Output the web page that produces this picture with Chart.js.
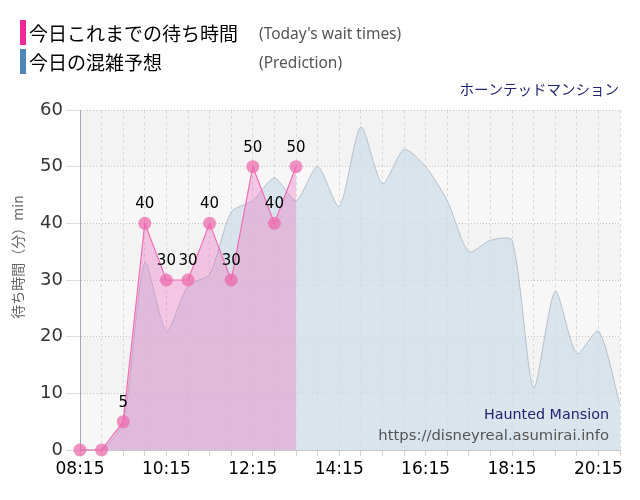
<!DOCTYPE html>
<html>
<head>
<meta charset="utf-8">
<script src="https://cdn.jsdelivr.net/npm/chart.js@4.4.1/dist/chart.umd.min.js"></script>
<style>
body { margin: 0; background: #fff; }
#wrap { position: relative; width: 640px; height: 500px; }
#c { position: absolute; left: 0; top: 0; }
.row { position: absolute; left: 20px; height: 25px; display: flex; align-items: center; }
.bar { width: 6px; height: 25px; margin-right: 3px; }
.jp { width: 230px; font: 19px "Noto Sans CJK JP"; color: #000; }
.en { font: 15.5px "Noto Sans"; color: #555; }
</style>
</head>
<body>
<div id="wrap">
  <canvas id="c" width="640" height="500"></canvas>
  <div class="row" style="top:20px"><span class="bar" style="background:#f0289a"></span><span class="jp">今日これまでの待ち時間</span><span class="en">(Today's wait times)</span></div>
  <div class="row" style="top:49px"><span class="bar" style="background:#4f86b8"></span><span class="jp">今日の混雑予想</span><span class="en">(Prediction)</span></div>
</div>
<script>
// time slots, every 30 min
let times = ['08:15', '08:45', '09:15', '09:45', '10:15', '10:45', '11:15', '11:45', '12:15', '12:45', '13:15', '13:45', '14:15',
    '14:45', '15:15', '15:45', '16:15', '16:45', '17:15', '17:45', '18:15', '18:45', '19:15', '19:45', '20:15', '20:45'];
// today's actual wait times so far
let actual = [0, 0, 5, 40, 30, 30, 40, 30, 50, 40, 50];
// predicted wait times
let prediction = [0, 0, 5, 33, 21, 29, 31, 42, 44, 48, 44, 50, 43, 57, 47, 53, 50, 44, 35, 37, 37, 11, 28, 17, 21, 8];

let attraction = 'ホーンテッドマンション';
let nameEn = 'Haunted Mansion';
let site = 'https://disneyreal.asumirai.info';
let yTitle = '待ち時間（分）min';

//striped plot background
let bgPlugin = {
    id: 'bg',
    beforeDraw(chart) {
        let ctx = chart.ctx, a = chart.chartArea, y = chart.scales.y;
        ctx.save();
        for (let v = 0; v < 60; v += 10) {
            let top = y.getPixelForValue(v + 10), bot = y.getPixelForValue(v);
            ctx.fillStyle = (v / 10) % 2 ? '#f3f3f3' : '#f7f7f7';
            ctx.fillRect(a.left, top, a.right - a.left, bot - top);
        }
        ctx.restore();
    }
};

//value labels over the actual points
let labelPlugin = {
    id: 'vlabels',
    afterDatasetsDraw(chart) {
        let ctx = chart.ctx;
        let meta = chart.getDatasetMeta(0);
        ctx.save();
        ctx.font = '15px "DejaVu Sans"';
        ctx.fillStyle = '#000';
        ctx.textAlign = 'center';
        ctx.textBaseline = 'middle';
        meta.data.forEach((pt, i) => {
            if (actual[i] > 0) ctx.fillText(actual[i], pt.x, pt.y - 19);
        });
        ctx.restore();
    }
};

//attraction name, y title + watermark
let textPlugin = {
    id: 'texts',
    afterDraw(chart) {
        let ctx = chart.ctx;
        ctx.save();
        ctx.textAlign = 'right';
        ctx.textBaseline = 'middle';
        ctx.font = '14.5px "Noto Sans CJK JP"';
        ctx.fillStyle = '#22226e';
        ctx.fillText(attraction, 619, 89);
        ctx.font = '14.3px "DejaVu Sans"';
        ctx.fillText(nameEn, 609, 415);
        ctx.fillStyle = '#555';
        ctx.font = '14.8px "DejaVu Sans"';
        ctx.fillText(site, 609, 436);
        // rotated axis title
        ctx.translate(18, 257);
        ctx.rotate(-Math.PI / 2);
        ctx.textAlign = 'center';
        ctx.fillStyle = '#666';
        ctx.font = '14px "Noto Sans CJK JP"';
        ctx.fillText(yTitle, 0, 0);
        ctx.restore();
    }
};

let chart = new Chart(document.getElementById('c'), {
    type: 'line',
    data: {
        labels: times,
        datasets: [{
            label: '今日これまでの待ち時間',
            data: actual,
            borderColor: '#f06eb4',
            borderWidth: 1.2,
            backgroundColor: 'rgba(235,110,190,0.35)',
            fill: 'origin',
            tension: 0,
            pointRadius: 6.5,
            pointBorderWidth: 0,
            pointBackgroundColor: 'rgba(236,104,172,0.72)',
            clip: false
        }, {
            label: '今日の混雑予想',
            data: prediction,
            borderColor: '#b4c0ca',
            borderWidth: 1,
            backgroundColor: 'rgba(208,222,233,0.75)',
            fill: 'origin',
            tension: 0.25,
            pointRadius: 0
        }]
    },
    options: {
        responsive: false,
        animation: false,
        layout: { padding: { top: 110, right: 20, left: 0, bottom: 0 } },
        plugins: {
            legend: { display: false },
            tooltip: { enabled: false }
        },
        scales: {
            x: {
                afterFit: (s) => { s.height = 50; },
                grid: { color: '#d8d8d8', tickLength: 6, tickColor: '#d0d0d0', tickBorderDash: [] },
                border: { dash: [3, 3], color: '#c8c8c8' },
                ticks: {
                    autoSkip: false,
                    maxRotation: 0,
                    padding: 3,
                    color: '#000',
                    font: { family: 'DejaVu Sans', size: 17 },
                    callback: (v, i) => i % 4 === 0 ? times[i] : ''
                }
            },
            y: {
                min: 0,
                max: 60,
                afterFit: (s) => { s.width = 80; },
                grid: { color: '#c4c6cc', tickLength: 14, tickColor: '#dcdcdc', tickBorderDash: [] },
                border: { dash: [1, 2], color: '#a8a8b4' },
                ticks: {
                    stepSize: 10,
                    padding: 3,
                    color: '#333',
                    font: { family: 'DejaVu Sans', size: 18 }
                }
            }
        }
    },
    plugins: [bgPlugin, labelPlugin, textPlugin]
});
</script>
</body>
</html>
